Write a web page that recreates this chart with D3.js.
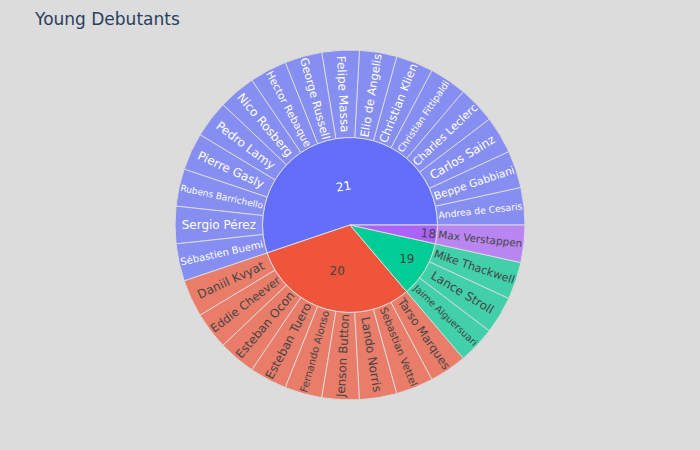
<!DOCTYPE html>
<html><head><meta charset="utf-8">
<script src="https://cdn.jsdelivr.net/npm/d3@7"></script>
<style>body{margin:0;background:#dcdcdc}svg{display:block}</style>
</head><body>
<svg id="chart" width="700" height="450"></svg>
<script>
// ---- data ----
const chartTitle = "Young Debutants";
const ages = ["21", "20", "19", "18"];
const ageColors = ["#636efa", "#EF553B", "#00cc96", "#ab63fa"];
const drivers21 = ["Andrea de Cesaris", "Beppe Gabbiani", "Carlos Sainz", "Charles Leclerc", "Christian Fittipaldi", "Christian Klien", "Elio de Angelis", "Felipe Massa", "George Russell", "Hector Rebaque", "Nico Rosberg", "Pedro Lamy", "Pierre Gasly", "Rubens Barrichello", "Sergio Pérez", "Sébastien Buemi"];
const drivers20 = ["Daniil Kvyat", "Eddie Cheever", "Esteban Ocon", "Esteban Tuero", "Fernando Alonso", "Jenson Button", "Lando Norris", "Sebastian Vettel", "Tarso Marques"];
const drivers19 = ["Jaime Alguersuari", "Lance Stroll", "Mike Thackwell"];
const drivers18 = ["Max Verstappen"];
const driverGroups = [drivers21, drivers20, drivers19, drivers18];
const driverValue = 1;

// ---- layout ----
const W = 700, H = 450, cx = 350, cy = 225, R = 175;
const bg = "#dcdcdc";
const FONT = "'DejaVu Sans', Verdana, sans-serif";
const svg = d3.select("#chart");
svg.append("rect").attr("width", W).attr("height", H).attr("fill", bg);

const rootData = {name: "", children: ages.map((a, i) => ({
  name: a, color: ageColors[i],
  children: driverGroups[i].map(n => ({name: n, value: driverValue}))
}))};
const root = d3.hierarchy(rootData).sum(d => d.value || 0)
  .sort((a, b) => b.value - a.value);
d3.partition().size([2 * Math.PI, 3])(root);
const rScale = d3.scaleLinear().domain([1, 3]).range([0, R]);

const nodes = root.descendants().filter(d => d.depth > 0);
nodes.forEach(d => {
  d.color = d.depth === 1 ? d.data.color : d.parent.data.color;
  d.rpx0 = rScale(d.y0); d.rpx1 = rScale(d.y1);
});

const arc = d3.arc()
  .startAngle(d => Math.PI / 2 - d.x1)
  .endAngle(d => Math.PI / 2 - d.x0)
  .innerRadius(d => d.rpx0).outerRadius(d => d.rpx1);

const g = svg.append("g").attr("transform", `translate(${cx},${cy})`);
g.selectAll("path").data(nodes).join("path")
  .attr("d", arc)
  .attr("fill", d => d.color)
  .attr("opacity", d => d.children ? 1 : 0.7)
  .attr("stroke", bg).attr("stroke-width", 1);

function isDark(c) { const k = d3.rgb(c); return (k.r * 299 + k.g * 587 + k.b * 114) / 1000 < 128; }
function norm(v) { return (((v % 180) + 180 + 90) % 180) - 90; }
function angleDelta(a, b) { const d = b - a + Math.PI; return ((d % (2 * Math.PI)) + 2 * Math.PI) % (2 * Math.PI) - Math.PI; }
function maxHalf(a, half, r, ring) {
  const q = a + 1 / (2 * Math.tan(half));
  return r * Math.min(1 / (Math.sqrt(q * q + 0.5) + q), ring / (Math.sqrt(a * a + ring / 2) + a));
}
function fitText(bw, bh, d) {
  const r = d.rpx1, ring = 1 - d.rpx0 / d.rpx1;
  const half = 0.5 * Math.min(angleDelta(d.x0, d.x1) || Math.PI, Math.PI);
  const th = (d.x0 + d.x1) / 2 * 180 / Math.PI;
  const rIn = Math.max(0, Math.min(1 / (1 + 1 / Math.sin(half)), ring / 2));
  const hz = {scale: rIn * r * 2 / Math.hypot(bw, bh), rc: 1 - rIn, rot: 0};
  if (hz.scale >= 1) return hz;
  const all = [hz];
  const rp = Math.max(0, r - 6);
  let a = bh / bw, s = maxHalf(a, half, rp, ring);
  all.push({scale: 2 * s / bw, rc: Math.cos(s / rp) - a * s / rp, rot: norm(90 - th)});
  a = bw / bh; s = maxHalf(a, half, rp, ring);
  all.push({scale: 2 * s / bh, rc: Math.cos(s / rp) - a * s / rp, rot: norm(-th)});
  all.sort((p, q) => q.scale - p.scale);
  return all[0];
}

const tg = svg.append("g");
nodes.forEach(d => {
  const t = tg.append("text").text(d.data.name)
    .attr("font-family", FONT).attr("font-size", 12)
    .attr("fill", isDark(d.color) ? "#ffffff" : "#444444");
  const bb = t.node().getBBox();
  const f = fitText(bb.width, bb.height, d);
  const sc = Math.min(1, f.scale);
  const th = (d.x0 + d.x1) / 2;
  const rr = f.rc * d.rpx1;
  const tx = cx + rr * Math.cos(th), ty = cy - rr * Math.sin(th);
  const bcx = bb.x + bb.width / 2, bcy = bb.y + bb.height / 2;
  t.attr("transform", `translate(${tx},${ty}) rotate(${f.rot}) scale(${sc}) translate(${-bcx},${-bcy})`);
});

svg.append("text").attr("x", 35).attr("y", 25)
  .attr("font-family", FONT).attr("font-size", 17).attr("fill", "#2a3f5f")
  .text(chartTitle);
</script>
</body></html>
